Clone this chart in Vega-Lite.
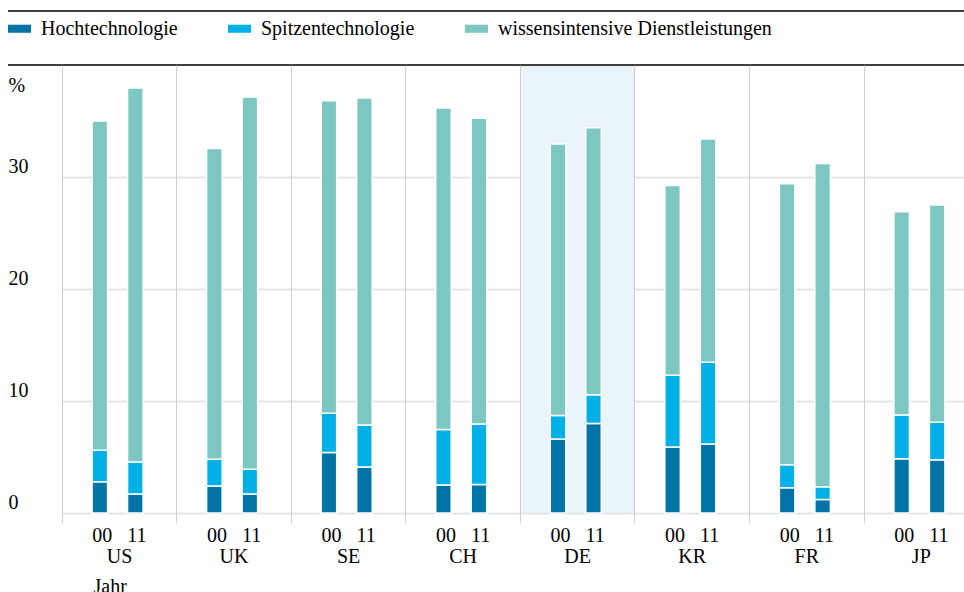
{
  "$schema": "https://vega.github.io/schema/vega-lite/v6.json",
  "width": 956,
  "height": 448,
  "autosize": "none",
  "padding": {"left": 8, "top": 65, "right": 0, "bottom": 79},
  "config": {
    "font": "Liberation Serif",
    "view": {"stroke": null},
    "axis": {"labelFont": "Liberation Serif", "titleFont": "Liberation Serif", "labelColor": "#000000", "titleColor": "#000000", "titleFontWeight": "normal"},
    "legend": {"labelFont": "Liberation Serif"}
  },
  "datasets": {
    "werte": [
      {"Land": "US", "Jahr": "00", "Kategorie": "Hochtechnologie", "k": 1, "Wert": 2.8},
      {"Land": "US", "Jahr": "00", "Kategorie": "Spitzentechnologie", "k": 2, "Wert": 2.8},
      {"Land": "US", "Jahr": "00", "Kategorie": "wissensintensive Dienstleistungen", "k": 3, "Wert": 29.4},
      {"Land": "US", "Jahr": "11", "Kategorie": "Hochtechnologie", "k": 1, "Wert": 1.7},
      {"Land": "US", "Jahr": "11", "Kategorie": "Spitzentechnologie", "k": 2, "Wert": 2.85},
      {"Land": "US", "Jahr": "11", "Kategorie": "wissensintensive Dienstleistungen", "k": 3, "Wert": 33.4},
      {"Land": "UK", "Jahr": "00", "Kategorie": "Hochtechnologie", "k": 1, "Wert": 2.4},
      {"Land": "UK", "Jahr": "00", "Kategorie": "Spitzentechnologie", "k": 2, "Wert": 2.4},
      {"Land": "UK", "Jahr": "00", "Kategorie": "wissensintensive Dienstleistungen", "k": 3, "Wert": 27.75},
      {"Land": "UK", "Jahr": "11", "Kategorie": "Hochtechnologie", "k": 1, "Wert": 1.7},
      {"Land": "UK", "Jahr": "11", "Kategorie": "Spitzentechnologie", "k": 2, "Wert": 2.2},
      {"Land": "UK", "Jahr": "11", "Kategorie": "wissensintensive Dienstleistungen", "k": 3, "Wert": 33.25},
      {"Land": "SE", "Jahr": "00", "Kategorie": "Hochtechnologie", "k": 1, "Wert": 5.4},
      {"Land": "SE", "Jahr": "00", "Kategorie": "Spitzentechnologie", "k": 2, "Wert": 3.5},
      {"Land": "SE", "Jahr": "00", "Kategorie": "wissensintensive Dienstleistungen", "k": 3, "Wert": 27.9},
      {"Land": "SE", "Jahr": "11", "Kategorie": "Hochtechnologie", "k": 1, "Wert": 4.1},
      {"Land": "SE", "Jahr": "11", "Kategorie": "Spitzentechnologie", "k": 2, "Wert": 3.75},
      {"Land": "SE", "Jahr": "11", "Kategorie": "wissensintensive Dienstleistungen", "k": 3, "Wert": 29.2},
      {"Land": "CH", "Jahr": "00", "Kategorie": "Hochtechnologie", "k": 1, "Wert": 2.5},
      {"Land": "CH", "Jahr": "00", "Kategorie": "Spitzentechnologie", "k": 2, "Wert": 4.95},
      {"Land": "CH", "Jahr": "00", "Kategorie": "wissensintensive Dienstleistungen", "k": 3, "Wert": 28.7},
      {"Land": "CH", "Jahr": "11", "Kategorie": "Hochtechnologie", "k": 1, "Wert": 2.55},
      {"Land": "CH", "Jahr": "11", "Kategorie": "Spitzentechnologie", "k": 2, "Wert": 5.4},
      {"Land": "CH", "Jahr": "11", "Kategorie": "wissensintensive Dienstleistungen", "k": 3, "Wert": 27.3},
      {"Land": "DE", "Jahr": "00", "Kategorie": "Hochtechnologie", "k": 1, "Wert": 6.6},
      {"Land": "DE", "Jahr": "00", "Kategorie": "Spitzentechnologie", "k": 2, "Wert": 2.1},
      {"Land": "DE", "Jahr": "00", "Kategorie": "wissensintensive Dienstleistungen", "k": 3, "Wert": 24.25},
      {"Land": "DE", "Jahr": "11", "Kategorie": "Hochtechnologie", "k": 1, "Wert": 8.0},
      {"Land": "DE", "Jahr": "11", "Kategorie": "Spitzentechnologie", "k": 2, "Wert": 2.55},
      {"Land": "DE", "Jahr": "11", "Kategorie": "wissensintensive Dienstleistungen", "k": 3, "Wert": 23.85},
      {"Land": "KR", "Jahr": "00", "Kategorie": "Hochtechnologie", "k": 1, "Wert": 5.9},
      {"Land": "KR", "Jahr": "00", "Kategorie": "Spitzentechnologie", "k": 2, "Wert": 6.4},
      {"Land": "KR", "Jahr": "00", "Kategorie": "wissensintensive Dienstleistungen", "k": 3, "Wert": 16.95},
      {"Land": "KR", "Jahr": "11", "Kategorie": "Hochtechnologie", "k": 1, "Wert": 6.15},
      {"Land": "KR", "Jahr": "11", "Kategorie": "Spitzentechnologie", "k": 2, "Wert": 7.3},
      {"Land": "KR", "Jahr": "11", "Kategorie": "wissensintensive Dienstleistungen", "k": 3, "Wert": 19.95},
      {"Land": "FR", "Jahr": "00", "Kategorie": "Hochtechnologie", "k": 1, "Wert": 2.25},
      {"Land": "FR", "Jahr": "00", "Kategorie": "Spitzentechnologie", "k": 2, "Wert": 2.05},
      {"Land": "FR", "Jahr": "00", "Kategorie": "wissensintensive Dienstleistungen", "k": 3, "Wert": 25.1},
      {"Land": "FR", "Jahr": "11", "Kategorie": "Hochtechnologie", "k": 1, "Wert": 1.2},
      {"Land": "FR", "Jahr": "11", "Kategorie": "Spitzentechnologie", "k": 2, "Wert": 1.15},
      {"Land": "FR", "Jahr": "11", "Kategorie": "wissensintensive Dienstleistungen", "k": 3, "Wert": 28.85},
      {"Land": "JP", "Jahr": "00", "Kategorie": "Hochtechnologie", "k": 1, "Wert": 4.85},
      {"Land": "JP", "Jahr": "00", "Kategorie": "Spitzentechnologie", "k": 2, "Wert": 3.9},
      {"Land": "JP", "Jahr": "00", "Kategorie": "wissensintensive Dienstleistungen", "k": 3, "Wert": 18.15},
      {"Land": "JP", "Jahr": "11", "Kategorie": "Hochtechnologie", "k": 1, "Wert": 4.75},
      {"Land": "JP", "Jahr": "11", "Kategorie": "Spitzentechnologie", "k": 2, "Wert": 3.35},
      {"Land": "JP", "Jahr": "11", "Kategorie": "wissensintensive Dienstleistungen", "k": 3, "Wert": 19.4}
    ],
    "hervorhebung": [{"Land": "DE", "von": 0, "bis": 40}]
  },
  "layer": [
    {
      "data": {"name": "hervorhebung"},
      "mark": {"type": "rect", "fill": "#e9f4fb"},
      "encoding": {
        "x": {
          "field": "Land",
          "type": "nominal",
          "sort": null,
          "scale": {"domain": ["US", "UK", "SE", "CH", "DE", "KR", "FR", "JP"], "range": [53.7, 970.1], "paddingInner": 0, "paddingOuter": 0},
          "axis": {
            "title": "Jahr",
            "titleFontSize": 20,
            "titleAlign": "left",
            "titleBaseline": "top",
            "titleX": 85,
            "titleY": 63,
            "titleAnchor": "start",
            "domain": false,
            "grid": true,
            "gridColor": "#cfcfcf",
            "gridWidth": 1,
            "tickBand": "extent",
            "ticks": true,
            "tickSize": 10,
            "tickColor": "#cfcfcf",
            "tickWidth": 1,
            "labelAngle": 0,
            "labelFontSize": 20,
            "labelLineHeight": 21.5,
            "labelPadding": 2,
            "labelBaseline": "top",
            "labelOverlap": false,
            "labelExpr": "datum.label ? ['00\u00a0\u00a0\u00a011', datum.label] : ''"
          }
        },
        "y": {
          "field": "von",
          "type": "quantitative",
          "scale": {"domain": [0, 40], "nice": false, "zero": true},
          "axis": {
            "title": "%",
            "titleAngle": 0,
            "titleAlign": "left",
            "titleBaseline": "alphabetic",
            "titleX": 0,
            "titleY": 26,
            "titleFontSize": 20,
            "values": [0, 10, 20, 30],
            "domain": false,
            "ticks": false,
            "tickSize": 0,
            "grid": true,
            "gridColor": "#dedede",
            "gridWidth": 1.5,
            "labelAlign": "left",
            "labelBaseline": "alphabetic",
            "labelOffset": -5,
            "labelPadding": 0,
            "labelFontSize": 20
          }
        },
        "y2": {"field": "bis"}
      }
    },
    {
      "data": {"name": "werte"},
      "mark": {"type": "bar", "stroke": "#ffffff", "strokeWidth": 1.5},
      "encoding": {
        "x": {"field": "Land", "type": "nominal", "sort": null},
        "xOffset": {"field": "Jahr", "type": "nominal", "scale": {"paddingInner": 0.563, "paddingOuter": 0.895, "align": 0.478}},
        "y": {"field": "Wert", "type": "quantitative", "aggregate": "sum", "stack": "zero"},
        "order": {"field": "k", "type": "quantitative", "sort": "ascending"},
        "color": {
          "field": "Kategorie",
          "type": "nominal",
          "scale": {
            "domain": ["Hochtechnologie", "Spitzentechnologie", "wissensintensive Dienstleistungen"],
            "range": ["#0074a7", "#00b0e6", "#7cc7c1"]
          },
          "legend": {
            "title": null,
            "orient": "none",
            "legendX": 0,
            "legendY": -48,
            "direction": "horizontal",
            "columnPadding": 50,
            "labelFontSize": 20,
            "labelColor": "#000000",
            "labelOffset": 10,
            "labelLimit": 400,
            "symbolType": "M-1,-0.35H1V0.35H-1Z",
            "symbolSize": 529,
            "symbolStrokeWidth": 0,
            "symbolOpacity": 1
          }
        }
      }
    },
    {
      "data": {"values": [{}]},
      "mark": {"type": "rule", "color": "#000000", "strokeWidth": 1.5},
      "encoding": {"y": {"datum": 40}}
    },
    {
      "data": {"values": [{}]},
      "mark": {"type": "rule", "color": "#000000", "strokeWidth": 1.5},
      "encoding": {"y": {"datum": 44.82}}
    }
  ]
}
